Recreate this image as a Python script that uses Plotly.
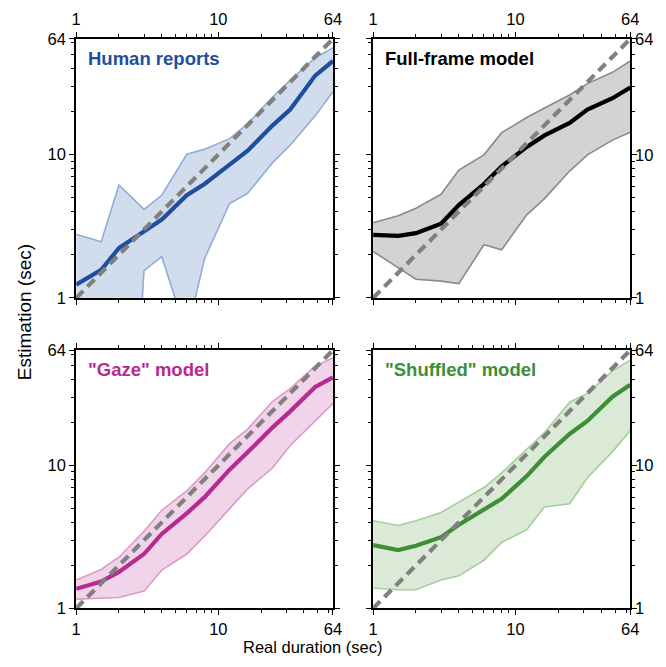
import plotly.graph_objects as go
import math

# ---- data ----
durations = [1, 1.5, 2, 3, 4, 6, 8, 12, 16, 24, 32, 48, 64]
diag = [1, 64]

human_mean = [1.24, 1.57, 2.23, 2.93, 3.52, 5.2, 6.23, 8.51, 10.6, 15.9, 20.6, 35.5, 44.9]
human_upper = [2.78, 2.47, 6.13, 4.15, 5.2, 10.05, 10.9, 12.9, 16.3, 25.1, 32.9, 47.3, 55.3]
human_lower = [0.002, 0.002, 0.002, 1.55, 1.94, 0.56, 1.88, 4.56, 5.33, 8.74, 11.6, 18.6, 27.4]

full_mean = [2.75, 2.71, 2.83, 3.29, 4.44, 6.23, 8.29, 11.3, 13.6, 16.6, 20.6, 24.7, 29.3]
full_upper = [3.34, 3.74, 4.22, 5.28, 7.79, 9.95, 14.2, 18.1, 21.1, 26.0, 31.2, 37.4, 44.9]
full_lower = [2.11, 1.63, 1.35, 1.31, 1.26, 2.35, 2.17, 3.80, 4.93, 7.67, 9.95, 12.6, 14.3]

gaze_mean = [1.37, 1.54, 1.80, 2.40, 3.32, 4.62, 6.0, 9.34, 12.3, 18.4, 23.9, 35.4, 41.4]
gaze_upper = [1.58, 1.87, 2.28, 3.46, 4.86, 6.65, 8.87, 14.2, 17.9, 28.0, 34.5, 49.7, 56.6]
gaze_lower = [1.16, 1.17, 1.19, 1.32, 1.85, 2.40, 3.20, 4.99, 6.83, 9.59, 13.8, 20.5, 27.2]

shuf_mean = [2.77, 2.56, 2.74, 3.15, 3.85, 4.86, 5.84, 8.42, 11.5, 16.6, 20.5, 30.3, 36.7]
shuf_upper = [4.10, 3.80, 4.10, 4.69, 5.54, 7.01, 8.87, 13.1, 17.0, 27.7, 31.9, 45.9, 54.6]
shuf_lower = [1.39, 1.35, 1.35, 1.58, 1.69, 2.17, 2.89, 3.56, 5.13, 5.40, 8.20, 12.5, 17.5]

panel_titles = ["Human reports", "Full-frame model", "\"Gaze\" model", "\"Shuffled\" model"]
tick_vals = [1, 10, 64]
tick_text = ["1", "10", "64"]
minor_vals = [2, 3, 4, 5, 6, 7, 8, 9, 20, 30, 40, 50, 60]

W, H = 666, 667


def fx(px):
    return px / W


def fy(py):
    return 1 - py / H


panels = [
    dict(mean=human_mean, up=human_upper, lo=human_lower, title=panel_titles[0],
         main="#1f4e9f", edge="#93acd6", fill="#d1dcec",
         px=(72.7, 335.0), py=(30.7, 297.0), xside="top", yside="left"),
    dict(mean=full_mean, up=full_upper, lo=full_lower, title=panel_titles[1],
         main="#000000", edge="#8a8a8a", fill="#d3d3d3",
         px=(376.0, 638.7), py=(30.7, 297.0), xside="top", yside="right"),
    dict(mean=gaze_mean, up=gaze_upper, lo=gaze_lower, title=panel_titles[2],
         main="#b72a8f", edge="#dc9acb", fill="#f1d4e9",
         px=(72.7, 335.0), py=(350.7, 616.0), xside="bottom", yside="left"),
    dict(mean=shuf_mean, up=shuf_upper, lo=shuf_lower, title=panel_titles[3],
         main="#3e8e37", edge="#a4cf9d", fill="#dbe9d7",
         px=(376.0, 638.7), py=(350.7, 616.0), xside="bottom", yside="right"),
]

fig = go.Figure()
layout = {}
annotations = []
font_fam = "Liberation Sans, Arial, sans-serif"
tick_font = dict(family=font_fam, size=16.5, color="black")

for i, p in enumerate(panels):
    n = "" if i == 0 else str(i + 1)
    xa, ya = "x" + n, "y" + n
    fig.add_trace(go.Scatter(x=durations, y=p["lo"], mode="lines",
                             line=dict(color=p["edge"], width=1.6),
                             xaxis=xa, yaxis=ya, showlegend=False))
    fig.add_trace(go.Scatter(x=durations, y=p["up"], mode="lines", fill="tonexty",
                             fillcolor=p["fill"],
                             line=dict(color=p["edge"], width=1.6),
                             xaxis=xa, yaxis=ya, showlegend=False))
    fig.add_trace(go.Scatter(x=durations, y=p["mean"], mode="lines",
                             line=dict(color=p["main"], width=4.2),
                             xaxis=xa, yaxis=ya, showlegend=False))
    fig.add_trace(go.Scatter(x=diag, y=diag, mode="lines",
                             line=dict(color="#808080", width=4.2, dash="10px,6px"),
                             xaxis=xa, yaxis=ya, showlegend=False))
    common = dict(type="log", range=[0, math.log10(64)], tickmode="array",
                  tickvals=tick_vals, ticktext=tick_text, ticks="outside",
                  ticklen=5, tickwidth=1.2, tickcolor="black",
                  showline=True, linecolor="black", linewidth=2, mirror="ticks",
                  showgrid=False, zeroline=False, tickfont=tick_font,
                  minor=dict(tickmode="array", tickvals=minor_vals, ticks="outside",
                             ticklen=3, tickwidth=1, tickcolor="black", showgrid=False))
    right = p["yside"] == "right"
    layout["xaxis" + n] = dict(common, domain=[fx(p["px"][0]), fx(p["px"][1])],
                               anchor=ya, side=p["xside"])
    layout["yaxis" + n] = dict(common, domain=[fy(p["py"][1]), fy(p["py"][0])],
                               anchor=xa, side=p["yside"], showticklabels=not right)
    if right:
        for tv, tt in zip(tick_vals, tick_text):
            annotations.append(dict(text=tt, xref="paper", yref=ya, x=fx(p["px"][1] + 3),
                                    y=math.log10(tv), xanchor="left", yanchor="middle",
                                    showarrow=False, font=tick_font))
    annotations.append(dict(text="<b>" + p["title"] + "</b>", xref="paper", yref="paper",
                            x=fx(p["px"][0] + 10), y=fy(p["py"][0] + 20),
                            xanchor="left", yanchor="middle", showarrow=False,
                            font=dict(family=font_fam, size=18.5, color=p["main"])))

annotations.append(dict(text="Real duration (sec)", xref="paper", yref="paper",
                        x=fx(314), y=fy(656), xanchor="center", yanchor="middle",
                        showarrow=False, font=dict(family=font_fam, size=16.5, color="black")))
annotations.append(dict(text="Estimation (sec)", xref="paper", yref="paper",
                        x=fx(20), y=fy(312), xanchor="center", yanchor="middle",
                        textangle=-90, showarrow=False,
                        font=dict(family=font_fam, size=19, color="black")))

fig.update_layout(**layout)
fig.update_layout(width=W, height=H, margin=dict(l=0, r=0, t=0, b=0),
                  plot_bgcolor="white", paper_bgcolor="white",
                  annotations=annotations, showlegend=False)

fig.write_html("out.html", config={"displayModeBar": False},
               post_script="document.body.style.margin='0';document.body.style.overflow='hidden';")
